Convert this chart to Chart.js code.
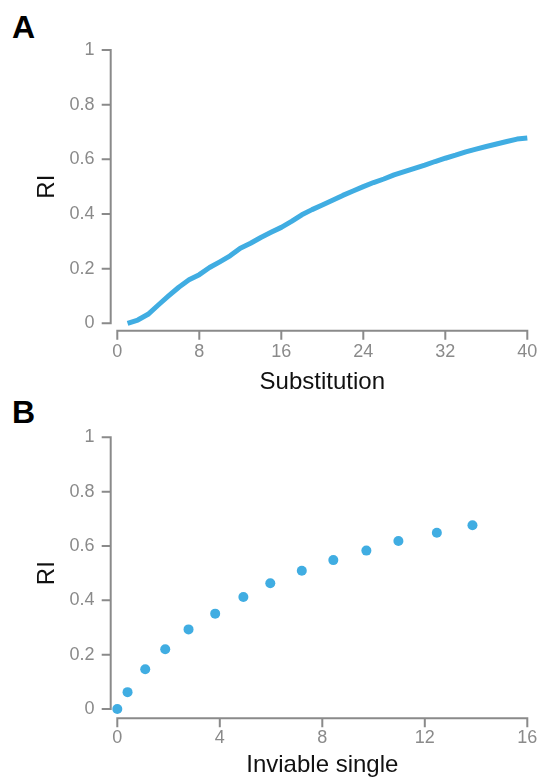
<!DOCTYPE html>
<html>
<head>
<meta charset="utf-8">
<script src="https://cdn.jsdelivr.net/npm/chart.js@4.4.1/dist/chart.umd.min.js"></script>
<style>
  html, body { margin: 0; padding: 0; background: #fff; }
  body { width: 540px; height: 780px; position: relative; overflow: hidden; font-family: "Liberation Sans", Arial, sans-serif; }
  canvas { position: absolute; left: 0; }
  #cvA { top: 0; }
  #cvB { top: 400px; }
  .panel { position: absolute; left: 12px; font-size: 32px; font-weight: bold; line-height: 32px; color: #000; }
</style>
</head>
<body>
<div class="panel" style="top:11px">A</div>
<div class="panel" style="top:396px">B</div>
<canvas id="cvA" width="540" height="400"></canvas>
<canvas id="cvB" width="540" height="380"></canvas>
<script>
// panel A: RI vs number of substitutions
const substitutionX = [1, 2, 3, 4, 5, 6, 7, 8, 9, 10, 11, 12, 13, 14, 15, 16, 17, 18, 19, 20,
                       21, 22, 23, 24, 25, 26, 27, 28, 29, 30, 31, 32, 33, 34, 35, 36, 37, 38, 39, 40];
const substitutionRI = [0, 0.012, 0.033, 0.067, 0.10, 0.132, 0.159, 0.178, 0.204, 0.225,
                        0.247, 0.275, 0.293, 0.314, 0.333, 0.351, 0.373, 0.397, 0.416, 0.433,
                        0.45, 0.468, 0.484, 0.50, 0.515, 0.528, 0.543, 0.555, 0.567, 0.579,
                        0.592, 0.604, 0.615, 0.627, 0.637, 0.647, 0.656, 0.665, 0.674, 0.678];

// panel B: RI vs number of inviable singles
const inviableX = [0, 0.40, 1.09, 1.87, 2.78, 3.82, 4.92, 5.97, 7.20, 8.43, 9.72, 10.97, 12.47, 13.86];
const inviableRI = [0, 0.062, 0.146, 0.22, 0.293, 0.351, 0.412, 0.463, 0.509, 0.548, 0.583, 0.618, 0.649, 0.676];

const riTicks = [0, 0.2, 0.4, 0.6, 0.8, 1];
const substitutionTicks = [0, 8, 16, 24, 32, 40];
const inviableTicks = [0, 4, 8, 12, 16];

const BLUE = '#40ade2';
const AXIS = '#8a8a8a';
const FONT = '"Liberation Sans", Arial, sans-serif';

// d3-like axes drawn a few pixels away from the plot area
const detachedAxes = {
  id: 'detachedAxes',
  beforeDatasetsDraw(chart, args, opts) {
    const { ctx, chartArea, scales: { x, y } } = chart;
    const ax = chartArea.left - opts.gapY;
    const ay = chartArea.bottom + opts.gapX;
    const tl = 9;
    ctx.save();
    ctx.strokeStyle = AXIS;
    ctx.lineWidth = 2;
    // y axis
    const yTop = y.getPixelForValue(y.max), yBot = y.getPixelForValue(y.min);
    ctx.beginPath();
    ctx.moveTo(ax - tl, yTop); ctx.lineTo(ax, yTop); ctx.lineTo(ax, yBot); ctx.lineTo(ax - tl, yBot);
    y.ticks.forEach(t => {
      const py = y.getPixelForValue(t.value);
      ctx.moveTo(ax - tl, py); ctx.lineTo(ax, py);
    });
    ctx.stroke();
    // x axis
    const xL = x.getPixelForValue(x.min), xR = x.getPixelForValue(x.max);
    ctx.beginPath();
    ctx.moveTo(xL, ay + tl); ctx.lineTo(xL, ay); ctx.lineTo(xR, ay); ctx.lineTo(xR, ay + tl);
    x.ticks.forEach(t => {
      const px = x.getPixelForValue(t.value);
      ctx.moveTo(px, ay); ctx.lineTo(px, ay + tl);
    });
    ctx.stroke();
    ctx.restore();
  }
};

function makeChart(id, cfg) {
  return new Chart(document.getElementById(id).getContext('2d'), {
    type: cfg.type,
    data: { datasets: [cfg.dataset] },
    options: {
      responsive: false,
      animation: false,
      events: [],
      layout: { padding: { top: cfg.top, right: 540 - 527.3, left: 0, bottom: 0 } },
      plugins: { legend: { display: false }, tooltip: { enabled: false }, detachedAxes: cfg.gaps },
      scales: {
        x: {
          type: 'linear', min: cfg.xTicks[0], max: cfg.xTicks[cfg.xTicks.length - 1],
          afterBuildTicks: s => { s.ticks = cfg.xTicks.map(v => ({ value: v })); },
          afterFit: s => { s.height = cfg.xHeight; s.paddingLeft = 0; s.paddingRight = 0; },
          grid: { display: false, drawTicks: false },
          border: { display: false },
          ticks: { color: AXIS, font: { family: FONT, size: 18 }, padding: 18, maxRotation: 0 },
          title: { display: true, text: cfg.xTitle, color: '#111', font: { family: FONT, size: 24 }, padding: { top: 0, bottom: cfg.xTitlePad } }
        },
        y: {
          min: 0, max: 1,
          afterBuildTicks: s => { s.ticks = riTicks.map(v => ({ value: v })); },
          afterFit: s => { s.width = 117.3; s.paddingTop = 0; s.paddingBottom = 0; },
          grid: { display: false, drawTicks: false },
          border: { display: false },
          ticks: { color: AXIS, font: { family: FONT, size: 18 }, padding: 22.8, callback: v => String(Math.round(v * 10) / 10) },
          title: { display: true, text: 'RI', color: '#111', font: { family: FONT, size: 24 }, padding: { top: 32.6, bottom: 0 } }
        }
      }
    },
    plugins: [detachedAxes]
  });
}

makeChart('cvA', {
  type: 'line',
  dataset: {
    data: substitutionX.map((x, i) => ({ x, y: substitutionRI[i] })),
    borderColor: BLUE, borderWidth: 5, pointRadius: 0, tension: 0, fill: false, clip: false,
    borderJoinStyle: 'round'
  },
  top: 50, xHeight: 400 - 323.3, xTicks: substitutionTicks, xTitle: 'Substitution', xTitlePad: 3.6,
  gaps: { gapX: 7.4, gapY: 6.6 }
});

makeChart('cvB', {
  type: 'scatter',
  dataset: {
    data: inviableX.map((x, i) => ({ x, y: inviableRI[i] })),
    backgroundColor: BLUE, borderWidth: 0, pointRadius: 5, clip: false
  },
  top: 37.3, xHeight: 380 - 309, xTicks: inviableTicks, xTitle: 'Inviable single', xTitlePad: 0,
  gaps: { gapX: 9.3, gapY: 6.6 }
});
</script>
</body>
</html>
